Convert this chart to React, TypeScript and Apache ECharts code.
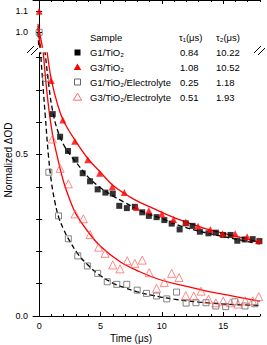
import React, { useEffect, useRef } from "react";
import * as echarts from "echarts";

// ---- data ----
const g1TiO2: [number, number][] = [
  [1.11, 0.625], [1.71, 0.555], [2.35, 0.511], [2.96, 0.484], [3.55, 0.442], [4.15, 0.417],
  [4.77, 0.392], [5.4, 0.382], [6.0, 0.379], [6.53, 0.341], [7.15, 0.334], [7.8, 0.338],
  [8.4, 0.321], [8.94, 0.31], [9.57, 0.306], [10.2, 0.297], [10.8, 0.286], [11.45, 0.268],
  [11.95, 0.287], [12.5, 0.279], [13.1, 0.261], [13.8, 0.256], [14.4, 0.258], [15.0, 0.251],
  [15.6, 0.251], [16.15, 0.233], [16.75, 0.237], [17.4, 0.238], [17.95, 0.232],
];
const g3TiO2: [number, number][] = [
  [0, 1.1], [0.98, 0.729], [1.93, 0.607], [2.9, 0.541], [3.96, 0.484], [4.93, 0.442],
  [5.96, 0.4], [6.94, 0.382], [7.94, 0.336], [8.94, 0.326], [10.0, 0.316], [10.95, 0.299],
  [11.95, 0.291], [12.95, 0.278], [13.95, 0.268], [14.95, 0.255], [15.98, 0.255],
  [16.95, 0.245], [17.9, 0.233],
];
const g1Elec: [number, number][] = [
  [0, 1.0], [0.54, 0.736], [0.79, 0.445], [1.58, 0.31], [2.38, 0.239], [3.15, 0.186],
  [3.93, 0.155], [4.77, 0.132], [5.55, 0.106], [6.33, 0.098], [7.14, 0.098], [7.99, 0.08],
  [8.75, 0.07], [9.57, 0.062], [10.4, 0.053], [11.2, 0.074], [11.98, 0.04], [12.78, 0.041],
  [13.6, 0.041], [14.4, 0.031], [15.2, 0.029], [15.95, 0.044], [16.78, 0.031], [17.58, 0.038],
];
const g3Elec: [number, number][] = [
  [1.08, 0.548], [1.71, 0.457], [2.38, 0.409], [2.93, 0.316], [3.6, 0.301], [4.15, 0.252],
  [4.85, 0.213], [5.37, 0.194], [6.0, 0.158], [6.59, 0.146], [7.18, 0.171], [7.8, 0.163],
  [8.4, 0.173], [8.97, 0.134], [9.57, 0.086], [10.2, 0.104], [10.8, 0.132], [11.4, 0.119],
  [11.95, 0.063], [12.6, 0.062], [13.2, 0.077], [13.8, 0.052], [14.4, 0.041], [15.0, 0.046],
  [15.6, 0.041], [16.2, 0.037], [16.8, 0.047], [17.4, 0.047], [17.9, 0.06],
];
// fitted curves, points
const fitG1TiO2: [number, number][] = [
  [-0.1, 1.02], [0.15, 0.92], [0.5, 0.81], [0.8, 0.71], [1.1, 0.635], [1.5, 0.575],
  [2.0, 0.53], [2.5, 0.5], [3.0, 0.476], [4.0, 0.43], [5.0, 0.397], [6.0, 0.372],
  [6.85, 0.354], [8.5, 0.322], [10.1, 0.3], [11.5, 0.279], [13.0, 0.263], [14.5, 0.25],
  [16.0, 0.238], [18.0, 0.223],
];
const fitG3TiO2: [number, number][] = [
  [-0.1, 1.04], [0.2, 0.95], [0.5, 0.86], [0.75, 0.79], [1.0, 0.73], [1.5, 0.655],
  [2.0, 0.603], [3.0, 0.54], [4.0, 0.486], [5.0, 0.445], [6.0, 0.405], [7.7, 0.362],
  [9.3, 0.333], [10.9, 0.306], [12.5, 0.284], [14.0, 0.266], [16.0, 0.247], [18.0, 0.228],
];
const fitG1Elec: [number, number][] = [
  [-0.1, 1.0], [0.1, 0.83], [0.3, 0.72], [0.5, 0.62], [0.75, 0.5], [1.0, 0.415],
  [1.3, 0.35], [1.6, 0.305], [2.0, 0.268], [2.4, 0.238], [3.2, 0.19], [4.0, 0.157],
  [4.8, 0.13], [6.0, 0.102], [7.0, 0.087], [8.0, 0.075], [9.0, 0.066], [10.0, 0.058],
  [11.0, 0.052], [12.0, 0.047], [13.0, 0.043], [14.0, 0.04], [15.0, 0.037], [16.0, 0.035],
  [17.0, 0.034], [18.0, 0.033],
];
const fitG3Elec: [number, number][] = [
  [-0.1, 1.03], [0.1, 0.93], [0.35, 0.81], [0.7, 0.67], [1.1, 0.56], [1.5, 0.49],
  [2.0, 0.415], [2.5, 0.36], [3.0, 0.316], [4.0, 0.26], [5.0, 0.216], [6.6, 0.168],
  [8.2, 0.137], [9.8, 0.113], [11.5, 0.096], [13.1, 0.082], [14.5, 0.071], [16.3, 0.058],
  [18.0, 0.046],
];

const legendRows = ["G1/TiO₂", "G3/TiO₂", "G1/TiO₂/Electrolyte", "G3/TiO₂/Electrolyte"];
const tau1 = ["0.84", "1.08", "0.25", "0.51"];
const tau2 = ["10.22", "10.52", "1.18", "1.93"];

const xMajor = [0, 5, 10, 15];
const xMinor = [0, 1, 2, 3, 4, 5, 6, 7, 8, 9, 10, 11, 12, 13, 14, 15, 16, 17, 18];
const yLowerTicks = [0, 0.1, 0.2, 0.3, 0.4, 0.5, 0.6, 0.7, 0.8];
const yLowerLabels = [0, 0.5];
const yUpperTicks = [1.0, 1.1];

const FONT = "'Liberation Sans', Arial, sans-serif";
const RED = "#ff0000";
const PINK = "#ff5a5a";

export default function App() {
  const ref = useRef<HTMLDivElement>(null);
  useEffect(() => {
    const chart = echarts.init(ref.current!, null, { renderer: "svg" });
    const axisLine = { show: true, lineStyle: { color: "#000", width: 1 } };
    const X_MIN = -0.5;
    const X_MAX = 18;
    const mkX = (grid: number, pos: "top" | "bottom", major: boolean, labels: boolean) => ({
      type: "value",
      gridIndex: grid,
      position: pos,
      min: X_MIN,
      max: X_MAX,
      axisLine: major ? axisLine : { show: false },
      splitLine: { show: false },
      axisTick: {
        show: true,
        inside: true,
        length: major ? 4 : 2,
        customValues: major ? xMajor : xMinor,
        lineStyle: { color: "#000", width: 1 },
      },
      axisLabel: {
        show: labels,
        customValues: xMajor,
        color: "#000",
        fontSize: 9,
        fontFamily: FONT,
        margin: 5,
      },
    });
    const mkY = (
      grid: number,
      pos: "left" | "right",
      min: number,
      max: number,
      ticks: number[],
      labels: number[] | null
    ) => ({
      type: "value",
      gridIndex: grid,
      position: pos,
      min,
      max,
      axisLine,
      splitLine: { show: false },
      axisTick: {
        show: true,
        inside: true,
        length: 3,
        customValues: ticks,
        lineStyle: { color: "#000", width: 1 },
      },
      axisLabel: {
        show: !!labels,
        customValues: labels || [],
        formatter: (v: number) => v.toFixed(1),
        color: "#000",
        fontSize: 9,
        fontFamily: FONT,
        margin: 5,
      },
    });

    const scatterStyles = [
      { data: g1TiO2, symbol: "rect", size: 6, itemStyle: { color: "#000" } },
      { data: g3TiO2, symbol: "triangle", size: 7, itemStyle: { color: RED } },
      {
        data: g1Elec,
        symbol: "rect",
        size: 6,
        itemStyle: { color: "rgba(0,0,0,0)", borderColor: "#666", borderWidth: 1 },
      },
      {
        data: g3Elec,
        symbol: "triangle",
        size: 8,
        itemStyle: { color: "rgba(0,0,0,0)", borderColor: PINK, borderWidth: 0.9 },
      },
    ];
    const fits = [
      { data: fitG1TiO2, color: "#000", type: "dashed" },
      { data: fitG3TiO2, color: RED, type: "solid" },
      { data: fitG1Elec, color: "#000", type: "dashed" },
      { data: fitG3Elec, color: RED, type: "solid" },
    ];
    const series: any[] = [];
    for (const g of [0, 1]) {
      const xi = g === 0 ? 0 : 2;
      const yi = g === 0 ? 0 : 2;
      fits.forEach((f) => {
        series.push({
          type: "line",
          xAxisIndex: xi,
          yAxisIndex: yi,
          data: f.data,
          showSymbol: false,
          smooth: 0.4,
          clip: true,
          silent: true,
          lineStyle: { color: f.color, width: 1.3, type: f.type === "dashed" ? [5, 3] : "solid" },
          z: 2,
        });
      });
      scatterStyles.forEach((s) => {
        series.push({
          type: "scatter",
          xAxisIndex: xi,
          yAxisIndex: yi,
          data: s.data,
          symbol: s.symbol,
          symbolSize: s.size,
          itemStyle: s.itemStyle,
          clip: true,
          silent: true,
          z: 3,
        });
      });
    }

    const rowY = [52.5, 67, 82, 97];
    const legendGraphics: any[] = [];
    const txt = (x: number, y: number, text: string, align = "left") => ({
      type: "text",
      x,
      y,
      style: {
        text,
        fill: "#000",
        fontSize: 9.5,
        fontFamily: FONT,
        align,
        verticalAlign: "middle",
      },
    });
    legendGraphics.push(txt(90, 37.5, "Sample"));
    legendGraphics.push(txt(179, 37.5, "τ₁(μs)"));
    legendGraphics.push(txt(216, 37.5, "τ₂(μs)"));
    legendRows.forEach((r, i) => {
      legendGraphics.push(txt(90, rowY[i], r));
      legendGraphics.push(txt(180, rowY[i], tau1[i]));
      legendGraphics.push(txt(216, rowY[i], tau2[i]));
    });
    const sx = 77.5;
    legendGraphics.push({
      type: "rect",
      shape: { x: sx - 3, y: rowY[0] - 3, width: 6, height: 6 },
      style: { fill: "#000" },
    });
    legendGraphics.push({
      type: "polygon",
      shape: { points: [[sx, rowY[1] - 3.5], [sx + 3.8, rowY[1] + 3], [sx - 3.8, rowY[1] + 3]] },
      style: { fill: RED },
    });
    legendGraphics.push({
      type: "rect",
      shape: { x: sx - 3, y: rowY[2] - 3, width: 6, height: 6 },
      style: { fill: "none", stroke: "#666", lineWidth: 1 },
    });
    legendGraphics.push({
      type: "polygon",
      shape: { points: [[sx, rowY[3] - 3.8], [sx + 4.2, rowY[3] + 3.2], [sx - 4.2, rowY[3] + 3.2]] },
      style: { fill: "none", stroke: PINK, lineWidth: 0.9 },
    });

    const breakLines = [
      [27, 53, 34, 46],
      [31, 55, 38, 48],
      [254, 53, 261, 46],
      [258, 55, 265, 48],
    ].map(([x1, y1, x2, y2]) => ({
      type: "line",
      shape: { x1, y1, x2, y2 },
      style: { stroke: "#000", lineWidth: 1 },
    }));

    chart.setOption({
      animation: false,
      backgroundColor: "#fff",
      grid: [
        { left: 33, right: 7, top: 0, height: 47 },
        { left: 33, right: 7, top: 53, bottom: 29 },
      ],
      xAxis: [
        mkX(0, "top", true, false),
        mkX(0, "top", false, false),
        mkX(1, "bottom", true, true),
        mkX(1, "bottom", false, false),
      ],
      yAxis: [
        mkY(0, "left", 0.93, 1.1538, yUpperTicks, yUpperTicks),
        mkY(0, "right", 0.93, 1.1538, yUpperTicks, null),
        mkY(1, "left", 0, 0.8142, yLowerTicks, yLowerLabels),
        mkY(1, "right", 0, 0.8142, yLowerTicks, null),
      ],
      series,
      graphic: [
        ...legendGraphics,
        ...breakLines,
        {
          type: "text",
          x: 131,
          y: 338,
          style: {
            text: "Time (μs)",
            fill: "#000",
            fontSize: 10,
            fontFamily: FONT,
            align: "center",
            verticalAlign: "middle",
          },
        },
        {
          type: "text",
          x: 8,
          y: 160,
          rotation: Math.PI / 2,
          style: {
            text: "Normalized ΔOD",
            fill: "#000",
            fontSize: 10,
            fontFamily: FONT,
            align: "center",
            verticalAlign: "middle",
          },
        },
      ],
    });
    return () => chart.dispose();
  }, []);
  return (
    <div
      ref={ref}
      style={{ position: "fixed", left: 0, top: 0, width: 267, height: 345, background: "#fff" }}
    />
  );
}
